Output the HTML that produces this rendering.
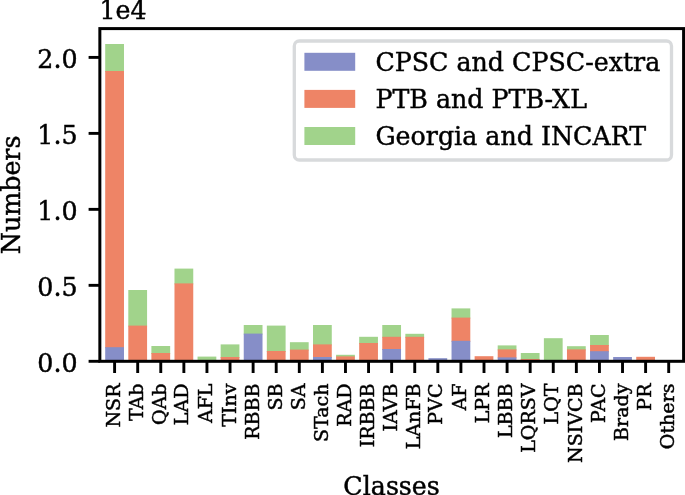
<!DOCTYPE html>
<html lang="en"><head><meta charset="utf-8"><title>Class distribution</title>
<style>html,body{margin:0;padding:0;background:#fff;}svg{display:block;}text{font-family:"DejaVu Serif", "Liberation Serif", serif;fill:#000;stroke:#000;stroke-width:0.45px;}</style>
</head><body>
<svg width="685" height="495" viewBox="0 0 685 495">
<rect x="0" y="0" width="685" height="495" fill="#fff"/>
<g>
<rect x="105.21" y="44.00" width="18.77" height="28.00" fill="#a1d38b"/>
<rect x="105.21" y="71.00" width="18.77" height="277.20" fill="#ee8466"/>
<rect x="105.21" y="347.20" width="18.77" height="14.10" fill="#868ec8"/>
<rect x="128.30" y="290.00" width="18.77" height="36.60" fill="#a1d38b"/>
<rect x="128.30" y="325.60" width="18.77" height="35.70" fill="#ee8466"/>
<rect x="151.39" y="346.00" width="18.77" height="8.00" fill="#a1d38b"/>
<rect x="151.39" y="353.00" width="18.77" height="8.30" fill="#ee8466"/>
<rect x="174.48" y="268.60" width="18.77" height="15.80" fill="#a1d38b"/>
<rect x="174.48" y="283.40" width="18.77" height="77.90" fill="#ee8466"/>
<rect x="197.56" y="356.60" width="18.77" height="4.70" fill="#a1d38b"/>
<rect x="220.65" y="344.40" width="18.77" height="13.60" fill="#a1d38b"/>
<rect x="220.65" y="357.00" width="18.77" height="4.30" fill="#ee8466"/>
<rect x="243.74" y="325.00" width="18.77" height="9.60" fill="#a1d38b"/>
<rect x="243.74" y="333.60" width="18.77" height="27.70" fill="#868ec8"/>
<rect x="266.83" y="325.60" width="18.77" height="26.40" fill="#a1d38b"/>
<rect x="266.83" y="351.00" width="18.77" height="10.30" fill="#ee8466"/>
<rect x="289.91" y="342.20" width="18.77" height="8.40" fill="#a1d38b"/>
<rect x="289.91" y="349.60" width="18.77" height="11.70" fill="#ee8466"/>
<rect x="313.00" y="325.00" width="18.77" height="20.40" fill="#a1d38b"/>
<rect x="313.00" y="344.40" width="18.77" height="13.60" fill="#ee8466"/>
<rect x="313.00" y="357.00" width="18.77" height="4.30" fill="#868ec8"/>
<rect x="336.09" y="354.80" width="18.77" height="2.60" fill="#a1d38b"/>
<rect x="336.09" y="356.40" width="18.77" height="4.90" fill="#ee8466"/>
<rect x="359.18" y="336.80" width="18.77" height="7.20" fill="#a1d38b"/>
<rect x="359.18" y="343.00" width="18.77" height="18.30" fill="#ee8466"/>
<rect x="382.26" y="325.00" width="18.77" height="12.80" fill="#a1d38b"/>
<rect x="382.26" y="336.80" width="18.77" height="13.20" fill="#ee8466"/>
<rect x="382.26" y="349.00" width="18.77" height="12.30" fill="#868ec8"/>
<rect x="405.35" y="333.80" width="18.77" height="4.00" fill="#a1d38b"/>
<rect x="405.35" y="336.80" width="18.77" height="24.50" fill="#ee8466"/>
<rect x="428.44" y="358.20" width="18.77" height="3.10" fill="#868ec8"/>
<rect x="451.53" y="308.40" width="18.77" height="10.20" fill="#a1d38b"/>
<rect x="451.53" y="317.60" width="18.77" height="24.20" fill="#ee8466"/>
<rect x="451.53" y="340.80" width="18.77" height="20.50" fill="#868ec8"/>
<rect x="474.62" y="356.20" width="18.77" height="5.10" fill="#ee8466"/>
<rect x="497.70" y="345.40" width="18.77" height="5.00" fill="#a1d38b"/>
<rect x="497.70" y="349.40" width="18.77" height="9.00" fill="#ee8466"/>
<rect x="497.70" y="357.40" width="18.77" height="3.90" fill="#868ec8"/>
<rect x="520.79" y="353.00" width="18.77" height="7.00" fill="#a1d38b"/>
<rect x="520.79" y="359.00" width="18.77" height="2.30" fill="#ee8466"/>
<rect x="543.88" y="338.20" width="18.77" height="23.10" fill="#a1d38b"/>
<rect x="566.97" y="346.20" width="18.77" height="4.20" fill="#a1d38b"/>
<rect x="566.97" y="349.40" width="18.77" height="11.90" fill="#ee8466"/>
<rect x="590.05" y="335.00" width="18.77" height="11.00" fill="#a1d38b"/>
<rect x="590.05" y="345.00" width="18.77" height="7.20" fill="#ee8466"/>
<rect x="590.05" y="351.20" width="18.77" height="10.10" fill="#868ec8"/>
<rect x="613.14" y="357.00" width="18.77" height="4.30" fill="#868ec8"/>
<rect x="636.23" y="356.80" width="18.77" height="4.50" fill="#ee8466"/>
</g>
<g stroke="#000" stroke-width="2.9" fill="none">
<line x1="88.60" y1="361.30" x2="99.85" y2="361.30"/>
<line x1="88.60" y1="285.33" x2="99.85" y2="285.33"/>
<line x1="88.60" y1="209.35" x2="99.85" y2="209.35"/>
<line x1="88.60" y1="133.38" x2="99.85" y2="133.38"/>
<line x1="88.60" y1="57.40" x2="99.85" y2="57.40"/>
<line x1="114.60" y1="361.30" x2="114.60" y2="373.00"/>
<line x1="137.69" y1="361.30" x2="137.69" y2="373.00"/>
<line x1="160.77" y1="361.30" x2="160.77" y2="373.00"/>
<line x1="183.86" y1="361.30" x2="183.86" y2="373.00"/>
<line x1="206.95" y1="361.30" x2="206.95" y2="373.00"/>
<line x1="230.04" y1="361.30" x2="230.04" y2="373.00"/>
<line x1="253.12" y1="361.30" x2="253.12" y2="373.00"/>
<line x1="276.21" y1="361.30" x2="276.21" y2="373.00"/>
<line x1="299.30" y1="361.30" x2="299.30" y2="373.00"/>
<line x1="322.39" y1="361.30" x2="322.39" y2="373.00"/>
<line x1="345.48" y1="361.30" x2="345.48" y2="373.00"/>
<line x1="368.56" y1="361.30" x2="368.56" y2="373.00"/>
<line x1="391.65" y1="361.30" x2="391.65" y2="373.00"/>
<line x1="414.74" y1="361.30" x2="414.74" y2="373.00"/>
<line x1="437.82" y1="361.30" x2="437.82" y2="373.00"/>
<line x1="460.91" y1="361.30" x2="460.91" y2="373.00"/>
<line x1="484.00" y1="361.30" x2="484.00" y2="373.00"/>
<line x1="507.09" y1="361.30" x2="507.09" y2="373.00"/>
<line x1="530.17" y1="361.30" x2="530.17" y2="373.00"/>
<line x1="553.26" y1="361.30" x2="553.26" y2="373.00"/>
<line x1="576.35" y1="361.30" x2="576.35" y2="373.00"/>
<line x1="599.44" y1="361.30" x2="599.44" y2="373.00"/>
<line x1="622.52" y1="361.30" x2="622.52" y2="373.00"/>
<line x1="645.61" y1="361.30" x2="645.61" y2="373.00"/>
<line x1="668.70" y1="361.30" x2="668.70" y2="373.00"/>
</g>
<rect x="99.85" y="28.60" width="583.75" height="332.70" fill="none" stroke="#000" stroke-width="3.0"/>
<text x="77.6" y="371.50" font-size="25.30" text-anchor="end">0.0</text>
<text x="77.6" y="295.53" font-size="25.30" text-anchor="end">0.5</text>
<text x="77.6" y="219.55" font-size="25.30" text-anchor="end">1.0</text>
<text x="77.6" y="143.58" font-size="25.30" text-anchor="end">1.5</text>
<text x="77.6" y="67.60" font-size="25.30" text-anchor="end">2.0</text>
<text x="99.5" y="19.2" font-size="25.30">1e4</text>
<text transform="translate(20,194.9) rotate(-90)" font-size="25.30" text-anchor="middle">Numbers</text>
<text x="391.6" y="494.7" font-size="25.30" text-anchor="middle">Classes</text>
<text transform="translate(120.30,383.50) rotate(-90)" font-size="19.05" text-anchor="end">NSR</text>
<text transform="translate(143.39,383.50) rotate(-90)" font-size="19.05" text-anchor="end">TAb</text>
<text transform="translate(165.77,383.50) rotate(-90)" font-size="19.05" text-anchor="end">QAb</text>
<text transform="translate(188.46,383.50) rotate(-90)" font-size="19.05" text-anchor="end">LAD</text>
<text transform="translate(211.85,383.50) rotate(-90)" font-size="19.05" text-anchor="end">AFL</text>
<text transform="translate(235.74,383.50) rotate(-90)" font-size="19.05" text-anchor="end">TInv</text>
<text transform="translate(258.62,383.50) rotate(-90)" font-size="19.05" text-anchor="end">RBBB</text>
<text transform="translate(281.71,383.50) rotate(-90)" font-size="19.05" text-anchor="end">SB</text>
<text transform="translate(305.00,383.50) rotate(-90)" font-size="19.05" text-anchor="end">SA</text>
<text transform="translate(328.09,383.50) rotate(-90)" font-size="19.05" text-anchor="end">STach</text>
<text transform="translate(351.18,383.50) rotate(-90)" font-size="19.05" text-anchor="end">RAD</text>
<text transform="translate(374.26,383.50) rotate(-90)" font-size="19.05" text-anchor="end">IRBBB</text>
<text transform="translate(397.35,383.50) rotate(-90)" font-size="19.05" text-anchor="end">IAVB</text>
<text transform="translate(420.44,383.50) rotate(-90)" font-size="19.05" text-anchor="end">LAnFB</text>
<text transform="translate(442.42,383.50) rotate(-90)" font-size="19.05" text-anchor="end">PVC</text>
<text transform="translate(465.91,383.50) rotate(-90)" font-size="19.05" text-anchor="end">AF</text>
<text transform="translate(489.00,383.50) rotate(-90)" font-size="19.05" text-anchor="end">LPR</text>
<text transform="translate(512.29,383.50) rotate(-90)" font-size="19.05" text-anchor="end">LBBB</text>
<text transform="translate(535.38,383.50) rotate(-90)" font-size="19.05" text-anchor="end">LQRSV</text>
<text transform="translate(558.46,383.50) rotate(-90)" font-size="19.05" text-anchor="end">LQT</text>
<text transform="translate(581.65,383.50) rotate(-90)" font-size="19.05" text-anchor="end">NSIVCB</text>
<text transform="translate(604.84,383.50) rotate(-90)" font-size="19.05" text-anchor="end">PAC</text>
<text transform="translate(627.73,383.50) rotate(-90)" font-size="19.05" text-anchor="end">Brady</text>
<text transform="translate(651.31,383.50) rotate(-90)" font-size="19.05" text-anchor="end">PR</text>
<text transform="translate(673.90,383.50) rotate(-90)" font-size="19.05" text-anchor="end">Others</text>
<rect x="294.3" y="41" width="377.2" height="119" rx="5" ry="5" fill="#fff" fill-opacity="0.8" stroke="#d8dadc" stroke-width="3.3"/>
<rect x="304.4" y="52.80" width="50.8" height="18.0" fill="#868ec8"/>
<text x="375.4" y="71.10" font-size="25.30">CPSC and CPSC-extra</text>
<rect x="304.4" y="89.90" width="50.8" height="18.0" fill="#ee8466"/>
<text x="375.4" y="108.20" font-size="25.30">PTB and PTB-XL</text>
<rect x="304.4" y="127.00" width="50.8" height="18.0" fill="#a1d38b"/>
<text x="375.4" y="144.60" font-size="25.30">Georgia and INCART</text>
</svg>
</body></html>
